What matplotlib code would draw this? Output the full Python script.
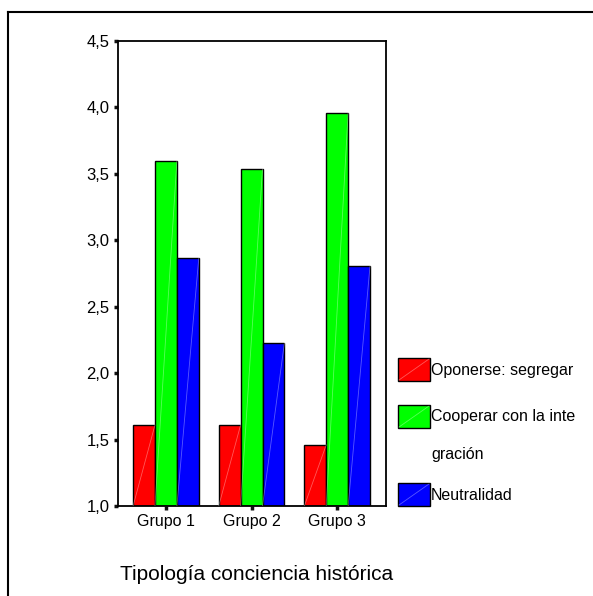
import matplotlib
matplotlib.use("Agg")
import matplotlib.pyplot as plt
from matplotlib.patches import Rectangle
from matplotlib.lines import Line2D
import numpy as np

plt.rcParams['font.family'] = ['Liberation Sans', 'DejaVu Sans']

groups = ["Grupo 1", "Grupo 2", "Grupo 3"]
series = ["Oponerse: segregar", "Cooperar con la inte\ngración", "Neutralidad"]
oponerse = [1.61, 1.61, 1.46]
cooperar = [3.60, 3.54, 3.96]
neutralidad = [2.87, 2.23, 2.81]
values = [oponerse, cooperar, neutralidad]
colors = ["#ff0000", "#00ff00", "#0000ff"]
yticks = [1.0, 1.5, 2.0, 2.5, 3.0, 3.5, 4.0, 4.5]
xlabel = "Tipología conciencia histórica"

W, H = 593, 596
fig = plt.figure(figsize=(W / 100, H / 100), dpi=100)
ax = fig.add_axes([118 / W, 1 - 506 / H, 268 / W, 465 / H])

x = np.arange(len(groups))
width = 0.256
base = 1.0
for i, (vals, col) in enumerate(zip(values, colors)):
    offs = (i - 1) * width
    bars = ax.bar(x + offs, np.array(vals) - base, width, bottom=base,
                  color=col, edgecolor="black", linewidth=1.0, zorder=2)
    for b in bars:
        x0, y0 = b.get_x(), b.get_y()
        ax.plot([x0, x0 + b.get_width()], [y0, y0 + b.get_height()],
                color="white", alpha=0.35, linewidth=0.6, zorder=3)

ax.set_xlim(-0.56, 2.57)
ax.set_ylim(1.0, 4.5)
ax.set_yticks(yticks)
ax.set_yticklabels([f"{v:.1f}".replace(".", ",") for v in yticks], fontsize=12)
ax.set_xticks(x)
ax.set_xticklabels(groups, fontsize=11.5)
ax.tick_params(axis="both", direction="out", length=3, width=2.5, color="#111111", pad=3)
for s in ax.spines.values():
    s.set_linewidth(1.3)

fig.text(257 / W, 1 - 575 / H, xlabel, ha="center", va="center", fontsize=15)

# legend: swatches with labels, the long label wrapped onto two lines
patch_tops = [358, 405, 483]
for lab, col, top in zip(series, colors, patch_tops):
    fig.patches.append(Rectangle((398 / W, 1 - (top + 23) / H), 32 / W, 23 / H,
                                 transform=fig.transFigure, facecolor=col,
                                 edgecolor="black", linewidth=1.0))
    fig.lines.append(Line2D([399 / W, 429 / W], [1 - (top + 22) / H, 1 - (top + 1) / H],
                            transform=fig.transFigure, color="white", alpha=0.35, linewidth=0.6))
    for k, line in enumerate(lab.split("\n")):
        fig.text(431 / W, 1 - (top + 12 + 37 * k) / H, line, ha="left", va="center",
                 fontsize=11.5)

# outer frame
fig.lines.append(Line2D([7.5 / W, 7.5 / W], [0, 1 - 12 / H], transform=fig.transFigure,
                        color="black", linewidth=1.5))
fig.lines.append(Line2D([7.5 / W, 1], [1 - 12 / H, 1 - 12 / H], transform=fig.transFigure,
                        color="black", linewidth=1.5))

fig.savefig("out.png", dpi=100, facecolor="white")
